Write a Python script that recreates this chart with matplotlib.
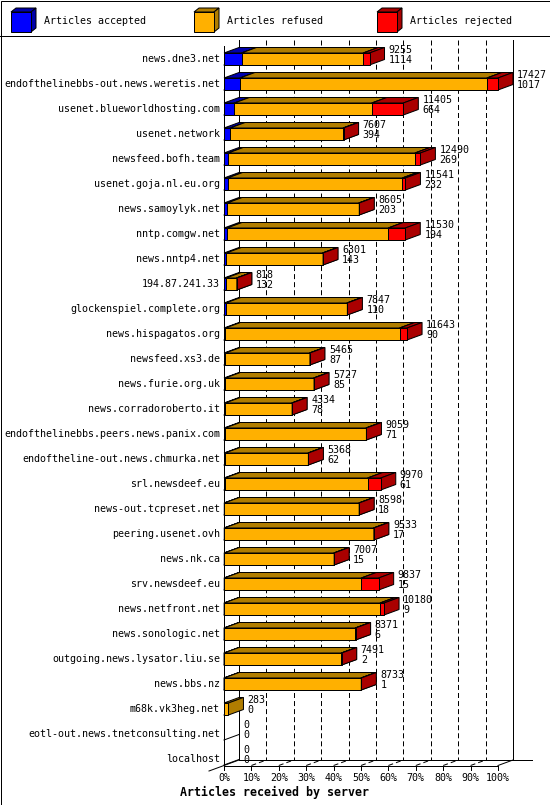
import matplotlib
matplotlib.use('Agg')
import matplotlib.pyplot as plt
from matplotlib.patches import Polygon, Rectangle
from matplotlib.lines import Line2D
from matplotlib.transforms import Affine2D

# ---------------- data ----------------
servers = [
    'news.dne3.net', 'endofthelinebbs-out.news.weretis.net', 'usenet.blueworldhosting.com',
    'usenet.network', 'newsfeed.bofh.team', 'usenet.goja.nl.eu.org', 'news.samoylyk.net',
    'nntp.comgw.net', 'news.nntp4.net', '194.87.241.33', 'glockenspiel.complete.org',
    'news.hispagatos.org', 'newsfeed.xs3.de', 'news.furie.org.uk', 'news.corradoroberto.it',
    'endofthelinebbs.peers.news.panix.com', 'endoftheline-out.news.chmurka.net',
    'srl.newsdeef.eu', 'news-out.tcpreset.net', 'peering.usenet.ovh', 'news.nk.ca',
    'srv.newsdeef.eu', 'news.netfront.net', 'news.sonologic.net', 'outgoing.news.lysator.liu.se',
    'news.bbs.nz', 'm68k.vk3heg.net', 'eotl-out.news.tnetconsulting.net', 'localhost',
]
offered = [9255, 17427, 11405, 7607, 12490, 11541, 8605, 11530, 6301, 818, 7847, 11643,
           5465, 5727, 4334, 9059, 5368, 9970, 8598, 9533, 7007, 9837, 10180, 8371, 7491,
           8733, 283, 0, 0]
accepted = [1114, 1017, 664, 394, 269, 232, 203, 194, 143, 132, 110, 90, 87, 85, 78, 71,
            62, 61, 18, 17, 15, 15, 9, 6, 2, 1, 0, 0, 0]
refused = [7741, 15710, 8741, 7183, 11881, 11109, 8372, 10256, 6128, 676, 7707, 11083,
           5358, 5622, 4236, 8958, 5286, 9079, 8560, 9496, 6972, 8722, 9921, 8345, 7469,
           8712, 283, 0, 0]
rejected = [400, 700, 2000, 30, 340, 200, 30, 1080, 30, 10, 30, 470, 20, 20, 20, 30, 20,
            830, 20, 20, 20, 1100, 250, 20, 20, 20, 0, 0, 0]
legend_labels = ['Articles accepted', 'Articles refused', 'Articles rejected']
xtick_values = [0, 10, 20, 30, 40, 50, 60, 70, 80, 90, 100]
xtick_labels = ['0%', '10%', '20%', '30%', '40%', '50%', '60%', '70%', '80%', '90%', '100%']
x_title = 'Articles received by server'

# ---------------- style ----------------
FRONT = ['#0000ff', '#ffb000', '#ff0000']
DARK = ['#0000aa', '#b07d00', '#aa0000']
FONT = 'DejaVu Sans Mono'
FS = 7.2
LW = 0.72
plt.rcParams['lines.scale_dashes'] = False

W, H = 550, 805
fig = plt.figure(figsize=(W / 100, H / 100), dpi=100)
fig.patch.set_facecolor('white')
ax = fig.add_axes([0, 0, 1, 1])
ax.set_axis_off()

X0, SC = 224, 2.74      # pixel of 0 %, pixels per %
Y0, RS = 59, 25         # pixel of first row centre, pixels per row
ax.set_xlim(-X0 / SC, (W - X0) / SC)
ax.set_ylim((H - Y0) / RS, -Y0 / RS)
DX = 15 / SC
DY = 5.5 / RS
HH = 6 / RS
PX = Affine2D().scale(1, -1).translate(0, H)   # pixel coords, y from top

n = len(servers)
top_back = (40 - Y0) / RS
floor_back = (760 - Y0) / RS
floor_front = floor_back + DY
scale_max = max(offered)

def line(xs, ys, z=1, **kw):
    ax.add_line(Line2D(xs, ys, color='black', lw=LW, zorder=z, **kw))

# frame and legend separator
fig.add_artist(Rectangle((0.5, 0.5), W - 1, H - 1, transform=Affine2D(), fill=False,
                         ec='black', lw=LW))
fig.add_artist(Line2D([0, W], [H - 35.5, H - 35.5], transform=Affine2D(), color='black', lw=LW))

# walls / floor
dash = (0, (3.6, 2.2))
line([0, 0], [top_back + DY, floor_front])
line([DX, DX], [top_back, floor_back])
line([100 + DX, 100 + DX], [top_back, floor_back])
line([0, 100], [floor_front, floor_front])
line([100, 100 + DX], [floor_front, floor_back])
line([DX, (532 - X0) / SC], [floor_back, floor_back])
line([-DX, DX], [floor_front + DY, floor_back])
for v in xtick_values[1:-1]:
    line([v + DX, v + DX], [top_back, floor_back], linestyle=dash)
    line([v, v + DX], [floor_front, floor_back], linestyle=dash)
for v in xtick_values:
    line([v, v], [floor_front, floor_front + 4 / RS])
for i in range(n):
    line([0, DX], [i + HH, i + HH - DY])

# bars
def box(x0, x1, yc, fc, dc, z):
    yt, yb = yc - HH, yc + HH
    kw = dict(closed=True, ec='black', lw=LW, zorder=z, joinstyle='miter')
    ax.add_patch(Polygon([(x0, yt), (x1, yt), (x1 + DX, yt - DY), (x0 + DX, yt - DY)], fc=dc, **kw))
    ax.add_patch(Polygon([(x1, yt), (x1 + DX, yt - DY), (x1 + DX, yb - DY), (x1, yb)], fc=dc, **kw))
    ax.add_patch(Rectangle((x0, yt), x1 - x0, yb - yt, fc=fc, ec='black', lw=LW, zorder=z,
                           joinstyle='miter'))

z = 3
for i in range(n):
    left = 0.0
    for k, series in enumerate([accepted, refused, rejected]):
        val = series[i]
        if val <= 0:
            continue
        w = val / scale_max * 100
        box(left, left + w, i, FRONT[k], DARK[k], z)
        z += 1
        left += w
    end = offered[i] / scale_max * 100
    tx = end + DX + 4 / SC
    ax.text(tx, i - 9.3 / RS, str(offered[i]), family=FONT, fontsize=FS, va='center',
            ha='left', zorder=200)
    ax.text(tx, i + 1.4 / RS, str(accepted[i]), family=FONT, fontsize=FS, va='center',
            ha='left', zorder=200)
    ax.text(-4 / SC, i, servers[i], family=FONT, fontsize=FS, va='center', ha='right')

# x tick labels and title
for v, lab in zip(xtick_values, xtick_labels):
    ax.text(v, (778 - Y0) / RS, lab, family=FONT, fontsize=FS, va='center', ha='center')
ax.text((180 - X0) / SC, (792 - Y0) / RS, x_title, family=FONT, fontsize=8.4,
        fontweight='bold', va='center', ha='left')

# legend
for k, lab in enumerate(legend_labels):
    bx = 11 + 183 * k
    x0, x1, yt, yb, ddx, ddy = bx, bx + 20, 12, 32, 5, 4
    kw = dict(closed=True, ec='black', lw=LW, transform=PX, joinstyle='miter')
    fig.add_artist(Polygon([(x0, yt), (x1, yt), (x1 + ddx, yt - ddy), (x0 + ddx, yt - ddy)], fc=DARK[k], **kw))
    fig.add_artist(Polygon([(x1, yt), (x1 + ddx, yt - ddy), (x1 + ddx, yb - ddy), (x1, yb)], fc=DARK[k], **kw))
    fig.add_artist(Polygon([(x0, yt), (x1, yt), (x1, yb), (x0, yb)], fc=FRONT[k], **kw))
    fig.text(bx + 33, H - 21, lab, transform=Affine2D(), family=FONT, fontsize=FS,
             va='center', ha='left')

fig.savefig('out.png', dpi=100)
